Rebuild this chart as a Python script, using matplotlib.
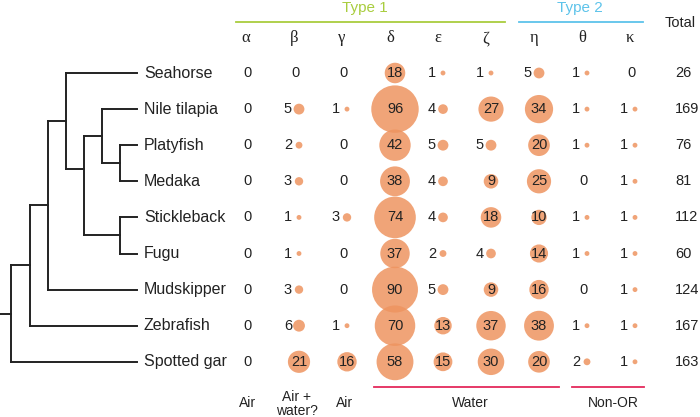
import matplotlib
matplotlib.use('Agg')
import matplotlib.pyplot as plt
from matplotlib.patches import Circle

species = ['Seahorse', 'Nile tilapia', 'Platyfish', 'Medaka', 'Stickleback',
           'Fugu', 'Mudskipper', 'Zebrafish', 'Spotted gar']
greek = ['α', 'β', 'γ', 'δ', 'ε', 'ζ', 'η', 'θ', 'κ']

alpha_n = [0, 0, 0, 0, 0, 0, 0, 0, 0]
beta_n = [0, 5, 2, 3, 1, 1, 3, 6, 21]
gamma_n = [0, 1, 0, 0, 3, 0, 0, 1, 16]
delta_n = [18, 96, 42, 38, 74, 37, 90, 70, 58]
epsilon_n = [1, 4, 5, 4, 4, 2, 5, 13, 15]
zeta_n = [1, 27, 5, 9, 18, 4, 9, 37, 30]
eta_n = [5, 34, 20, 25, 10, 14, 16, 38, 20]
theta_n = [1, 1, 1, 0, 1, 1, 0, 1, 2]
kappa_n = [0, 1, 1, 1, 1, 1, 1, 1, 1]
totals = [26, 169, 76, 81, 112, 60, 124, 167, 163]

# tree topology: (name, children); leaves are species names
tree = ('root', [
    ('zeb', [
        ('mud', [
            ('sea', ['Seahorse',
                     ('perc', [
                         ('til', ['Nile tilapia', ('pm', ['Platyfish', 'Medaka'])]),
                         ('sf', ['Stickleback', 'Fugu']),
                     ])]),
            'Mudskipper']),
        'Zebrafish']),
    'Spotted gar'])

columns = [alpha_n, beta_n, gamma_n, delta_n, epsilon_n, zeta_n, eta_n, theta_n, kappa_n]

# layout (pixels)
ROW0, ROWSTEP = 73, 36.1
COL0, COLSTEP = 251, 48
node_x = {'root': 11, 'zeb': 30, 'mud': 48, 'sea': 66, 'perc': 84,
          'til': 102, 'pm': 120, 'sf': 120}
node_frac = {'perc': 0.33}
LEAF_X = 137
DOT = '#EE9460'
GREEN = '#A9CD3E'
BLUE = '#5DC3EA'
RED = '#E42A5C'
INK = '#222222'
SANS = 'Liberation Sans'
SERIF = 'Liberation Serif'
NUM_FS = 10.5


def row_y(i):
    return ROW0 + ROWSTEP * i


def col_x(j):
    return COL0 + COLSTEP * j


def draw_tree(ax, node):
    if isinstance(node, str):
        return LEAF_X, row_y(species.index(node))
    name, children = node
    x = node_x[name]
    ys = []
    for child in children:
        cx, cy = draw_tree(ax, child)
        ax.plot([x, cx], [cy, cy], color=INK, lw=1.4, solid_capstyle='projecting')
        ys.append(cy)
    top, bot = min(ys), max(ys)
    ax.plot([x, x], [top, bot], color=INK, lw=1.4, solid_capstyle='projecting')
    return x, top + node_frac.get(name, 0.5) * (bot - top)


fig = plt.figure(figsize=(7, 4.17), dpi=100)
ax = fig.add_axes([0, 0, 1, 1])
ax.set_xlim(0, 700)
ax.set_ylim(417, 0)
ax.axis('off')

rx, ry = draw_tree(ax, tree)
ax.plot([0, rx], [ry, ry], color=INK, lw=1.4)

for i, name in enumerate(species):
    ax.text(144, row_y(i), name, ha='left', va='center', fontsize=11.5, family=SANS, color=INK)
    ax.text(675, row_y(i), str(totals[i]), ha='left', va='center', fontsize=NUM_FS, family=SANS, color=INK)

for j, col in enumerate(columns):
    cx = col_x(j)
    ax.text(cx - 5, 38, greek[j], ha='center', va='center', fontsize=12, family=SERIF, color=INK)
    for i, v in enumerate(col):
        y = row_y(i)
        if v == 0:
            ax.text(cx - 4, y, '0', ha='center', va='center', fontsize=NUM_FS, family=SANS, color=INK)
            continue
        r = 2.42 * v ** 0.5
        ax.add_patch(Circle((cx, y), r, facecolor=DOT, edgecolor='none', alpha=0.85))
        if v >= 8:
            ax.text(cx, y, str(v), ha='center', va='center', fontsize=NUM_FS, family=SANS, color=INK)
        else:
            ax.text(cx - 7, y, str(v), ha='right', va='center', fontsize=NUM_FS, family=SANS, color=INK)

# group headers
ax.plot([236, 505], [22, 22], color=GREEN, lw=1.3)
ax.text(365, 8, 'Type 1', ha='center', va='center', fontsize=11, family=SANS, color=GREEN)
ax.plot([519, 643], [22, 22], color=BLUE, lw=1.3)
ax.text(580, 8, 'Type 2', ha='center', va='center', fontsize=11, family=SANS, color=BLUE)
ax.text(665, 23, 'Total', ha='left', va='center', fontsize=10.5, family=SANS, color=INK)

# habitat labels
ax.text(248, 403, 'Air', ha='center', va='center', fontsize=10, family=SANS, color=INK)
ax.text(297, 404, 'Air +\nwater?', ha='center', va='center', fontsize=10, family=SANS,
        color=INK, linespacing=1.0)
ax.text(345, 403, 'Air', ha='center', va='center', fontsize=10, family=SANS, color=INK)
ax.plot([374, 559], [387, 387], color=RED, lw=1.3)
ax.text(470, 403, 'Water', ha='center', va='center', fontsize=10, family=SANS, color=INK)
ax.plot([572, 644], [387, 387], color=RED, lw=1.3)
ax.text(613, 403, 'Non-OR', ha='center', va='center', fontsize=10, family=SANS, color=INK)

fig.savefig('out.png', dpi=100)
